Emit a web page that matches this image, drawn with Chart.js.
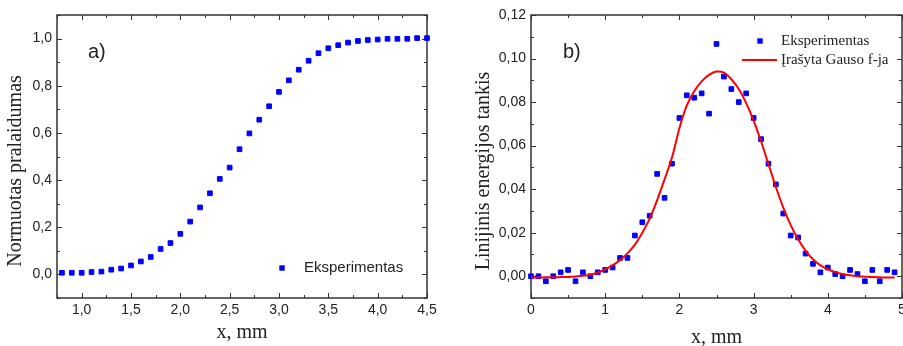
<!DOCTYPE html>
<html>
<head>
<meta charset="utf-8">
<script src="https://cdn.jsdelivr.net/npm/chart.js@4.4.0/dist/chart.umd.min.js"></script>
<style>
    html, body { margin: 0; padding: 0; background: #fff; overflow: hidden; width: 903px; height: 346px; }
    canvas { position: absolute; top: 0; }
    #chartA { left: 0; }
    #chartB { left: 450px; }
</style>
</head>
<body>
<canvas id="chartA" width="450" height="346"></canvas>
<canvas id="chartB" width="463" height="346"></canvas>
<script>
// a) normuotas pralaidumas
const xA = [0.8, 0.9, 1.0, 1.1, 1.2, 1.3, 1.4, 1.5, 1.6, 1.7, 1.8, 1.9, 2.0, 2.1, 2.2, 2.3, 2.4, 2.5, 2.6,
    2.7, 2.8, 2.9, 3.0, 3.1, 3.2, 3.3, 3.4, 3.5, 3.6, 3.7, 3.8, 3.9, 4.0, 4.1, 4.2, 4.3, 4.4, 4.5];
const yA = [0.007, 0.007, 0.007, 0.010, 0.012, 0.020, 0.025, 0.038, 0.055, 0.074, 0.108, 0.133, 0.172,
    0.224, 0.284, 0.344, 0.405, 0.453, 0.531, 0.598, 0.656, 0.713, 0.774, 0.823, 0.868, 0.906, 0.938,
    0.959, 0.972, 0.983, 0.990, 0.994, 0.996, 0.999, 0.999, 0.999, 1.002, 1.002];
const xTicksA = [1.0, 1.5, 2.0, 2.5, 3.0, 3.5, 4.0, 4.5];
const yTicksA = [0.0, 0.2, 0.4, 0.6, 0.8, 1.0];

// b) linijinis energijos tankis
const xB = [0.0, 0.1, 0.2, 0.3, 0.4, 0.5, 0.6, 0.7, 0.8, 0.9, 1.0, 1.1, 1.2, 1.3, 1.4, 1.5, 1.6, 1.7, 1.8, 1.9,
    2.0, 2.1, 2.2, 2.3, 2.4, 2.5, 2.6, 2.7, 2.8, 2.9, 3.0, 3.1, 3.2, 3.3, 3.4, 3.5, 3.6, 3.7, 3.8, 3.9,
    4.0, 4.1, 4.2, 4.3, 4.4, 4.5, 4.6, 4.7, 4.8, 4.9];
const yB = [0.0000, 0.0000, -0.0023, 0.0000, 0.0018, 0.0029, -0.0023, 0.0018, 0.0000, 0.0018,
    0.0029, 0.0040, 0.0084, 0.0084, 0.0187, 0.0248, 0.0278, 0.0470, 0.0360, 0.0517,
    0.0727, 0.0831, 0.0820, 0.0840, 0.0747, 0.1067, 0.0917, 0.0860, 0.0800, 0.0840,
    0.0727, 0.0630, 0.0517, 0.0422, 0.0288, 0.0187, 0.0178, 0.0104, 0.0057, 0.0018,
    0.0040, 0.0010, 0.0000, 0.0029, 0.0010, -0.0023, 0.0029, -0.0023, 0.0029, 0.0018];
const fitB = [-0.0006, -0.0006, -0.0005, -0.0005, -0.0004, -0.0003, -0.0001, 0.0002, 0.0007, 0.0017,
    0.0032, 0.0050, 0.0074, 0.0105, 0.0145, 0.0200, 0.0265, 0.0350, 0.0445, 0.0545,
    0.0680, 0.0785, 0.0850, 0.0895, 0.0925, 0.0940, 0.0935, 0.0905, 0.0860, 0.0795,
    0.0715, 0.0620, 0.0515, 0.0410, 0.0315, 0.0235, 0.0170, 0.0118, 0.0078, 0.0050,
    0.0032, 0.0019, 0.0010, 0.0004, 0.0000, -0.0002, -0.0004, -0.0005, -0.0006, -0.0006];
const xTicksB = [0, 1, 2, 3, 4, 5];
const yTicksB = [0.00, 0.02, 0.04, 0.06, 0.08, 0.10, 0.12];

const SANS = "'Liberation Sans', Arial, sans-serif";
const SERIF = "'Liberation Serif', 'Times New Roman', serif";
const INK = '#222';
const BLUE = '#0000ff';
const RED = '#ff0000';

const comma = d => v => v.toFixed(d).replace('.', ',');
const pairs = (xs, ys) => xs.map((x, i) => ({ x, y: ys[i] }));

// box round the plot with ticks pointing inwards on all four sides
const framePlugin = {
    id: 'frame',
    beforeDatasetsDraw(chart) {
        const { ctx, chartArea: a, scales } = chart;
        ctx.save();
        ctx.strokeStyle = '#333';
        ctx.lineWidth = 1;
        const marks = scale => {
            const major = scale.ticks.map(t => t.value);
            const step = major[1] - major[0];
            const out = major.map(v => [v, 5]);
            for (let v = major[0] - step / 2; v <= scale.max + 1e-9; v += step) {
                if (v >= scale.min - 1e-9) out.push([v, 3]);
            }
            return out;
        };
        ctx.beginPath();
        marks(scales.x).forEach(([v, len]) => {
            const px = Math.round(scales.x.getPixelForValue(v)) + 0.5;
            ctx.moveTo(px, a.bottom); ctx.lineTo(px, a.bottom - len);
            ctx.moveTo(px, a.top); ctx.lineTo(px, a.top + len);
        });
        marks(scales.y).forEach(([v, len]) => {
            const py = Math.round(scales.y.getPixelForValue(v)) + 0.5;
            ctx.moveTo(a.left, py); ctx.lineTo(a.left + len, py);
            ctx.moveTo(a.right, py); ctx.lineTo(a.right - len, py);
        });
        ctx.stroke();
        ctx.lineWidth = 1.5;
        ctx.strokeRect(a.left, a.top, a.right - a.left, a.bottom - a.top);
        ctx.restore();
    },
    afterDraw(chart, args, opts) {
        const { ctx } = chart;
        ctx.save();
        ctx.fillStyle = INK;
        ctx.textBaseline = 'middle';

        // y axis title, set a bit below the middle of the axis as in the original
        ctx.save();
        ctx.translate(opts.yTitleX, 171);
        ctx.rotate(-Math.PI / 2);
        ctx.textAlign = 'center';
        ctx.font = '20px ' + SERIF;
        ctx.fillText(opts.yTitle, 0, 0);
        ctx.restore();

        ctx.textAlign = 'left';
        ctx.font = '20px ' + SANS;
        ctx.fillText(opts.tag, opts.tagX, opts.tagY);
        ctx.font = '15px ' + opts.legendFont;
        opts.legend.forEach(item => {
            const ds = chart.data.datasets[item.index];
            if (ds.showLine) {
                ctx.strokeStyle = ds.borderColor;
                ctx.lineWidth = 2;
                ctx.beginPath();
                ctx.moveTo(item.x0, item.y);
                ctx.lineTo(item.x1, item.y);
                ctx.stroke();
            } else {
                ctx.fillStyle = ds.backgroundColor;
                ctx.fillRect(item.mx - 2.7, item.y - 2.7, 5.4, 5.4);
            }
            ctx.fillStyle = INK;
            ctx.fillText(ds.label, item.tx, item.y);
        });
        ctx.restore();
    }
};

function axes(cfg) {
    return {
        x: {
            type: 'linear',
            min: cfg.xMin, max: cfg.xMax,
            afterBuildTicks: s => { s.ticks = cfg.xTicks.map(v => ({ value: v })); },
            afterFit: s => { s.height = 48; },
            grid: { display: false, drawTicks: false },
            border: { display: false },
            ticks: { padding: 4, color: INK, font: { family: SANS, size: 14 }, callback: cfg.xFmt, maxRotation: 0, autoSkip: false },
            title: { display: true, text: 'x, mm', color: INK, font: { family: SERIF, size: 20 }, padding: { top: 0, bottom: cfg.xTitlePad } }
        },
        y: {
            type: 'linear',
            min: cfg.yMin, max: cfg.yMax,
            afterBuildTicks: s => { s.ticks = cfg.yTicks.map(v => ({ value: v })); },
            afterFit: s => { s.width = cfg.yWidth; },
            grid: { display: false, drawTicks: false },
            border: { display: false },
            ticks: { padding: 5, color: INK, font: { family: SANS, size: 14 }, callback: cfg.yFmt, autoSkip: false }
        }
    };
}

new Chart(document.getElementById('chartA'), {
    type: 'scatter',
    data: {
        datasets: [{
            label: 'Eksperimentas',
            data: pairs(xA, yA),
            pointStyle: 'rect',
            pointRadius: 3.3,
            borderWidth: 1,
            backgroundColor: BLUE,
            borderColor: BLUE,
            clip: false
        }]
    },
    options: {
        responsive: false,
        animation: false,
        layout: { padding: { left: 0, top: 15, right: 23, bottom: 0 } },
        scales: axes({
            xMin: 0.75, xMax: 4.5, xTicks: xTicksA, xFmt: comma(1), xTitlePad: 1,
            yMin: -0.1, yMax: 1.1, yTicks: yTicksA, yFmt: comma(1), yWidth: 57
        }),
        plugins: {
            legend: { display: false },
            tooltip: { enabled: false },
            frame: {
                yTitle: 'Normuotas pralaidumas', yTitleX: 15.5,
                tag: 'a)', tagX: 88, tagY: 52, legendFont: SANS,
                legend: [{ index: 0, mx: 282, tx: 304, y: 268 }]
            }
        }
    },
    plugins: [framePlugin]
});

new Chart(document.getElementById('chartB'), {
    type: 'scatter',
    data: {
        datasets: [{
            label: 'Įrašyta Gauso f-ja',
            data: pairs(xB, fitB),
            showLine: true,
            borderColor: RED,
            borderWidth: 2,
            pointRadius: 0,
            tension: 0.3,
            order: 0
        }, {
            label: 'Eksperimentas',
            data: pairs(xB, yB),
            pointStyle: 'rect',
            pointRadius: 3.3,
            borderWidth: 1,
            backgroundColor: BLUE,
            borderColor: BLUE,
            clip: false,
            order: 1
        }]
    },
    options: {
        responsive: false,
        animation: false,
        layout: { padding: { left: 0, top: 15, right: 11, bottom: 0 } },
        scales: axes({
            xMin: 0, xMax: 5, xTicks: xTicksB, xFmt: v => String(v), xTitlePad: -4,
            yMin: -0.01, yMax: 0.12, yTicks: yTicksB, yFmt: comma(2), yWidth: 81
        }),
        plugins: {
            legend: { display: false },
            tooltip: { enabled: false },
            frame: {
                yTitle: 'Linijinis energijos tankis', yTitleX: 33.5,
                tag: 'b)', tagX: 113, tagY: 52, legendFont: SERIF,
                legend: [
                    { index: 1, mx: 310, tx: 331, y: 41 },
                    { index: 0, x0: 292, x1: 327, tx: 331, y: 60 }
                ]
            }
        }
    },
    plugins: [framePlugin]
});
</script>
</body>
</html>
